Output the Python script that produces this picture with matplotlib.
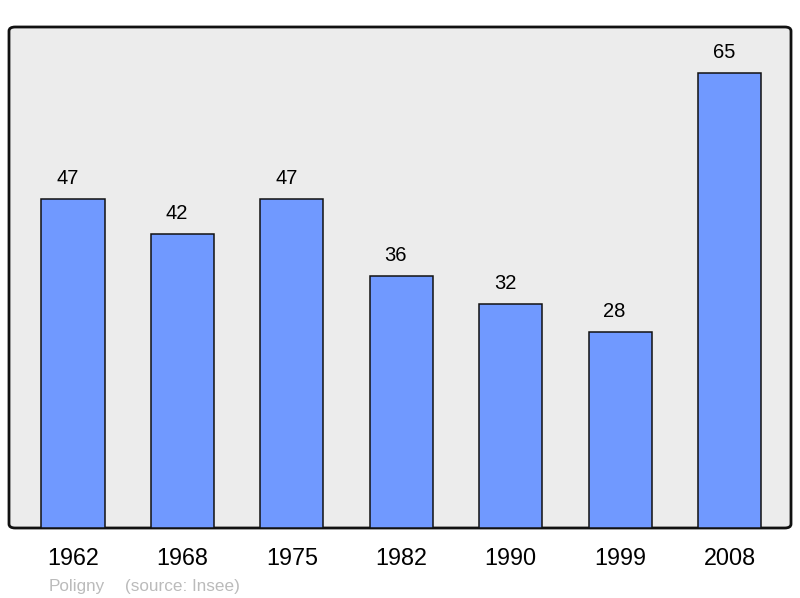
import matplotlib.pyplot as plt
from matplotlib.patches import FancyBboxPatch

plt.rcParams['font.family'] = ['Liberation Sans', 'DejaVu Sans']

years = ["1962", "1968", "1975", "1982", "1990", "1999", "2008"]
population = [47, 42, 47, 36, 32, 28, 65]
town = "Poligny"
source = "(source: Insee)"

fig = plt.figure(figsize=(8, 5.98), dpi=100)
ax = fig.add_axes([9 / 800, 70 / 598, 782 / 800, 501 / 598])
ax.set_facecolor("none")

frame = FancyBboxPatch((0, 0), 1, 1, boxstyle="round,pad=0,rounding_size=0.008",
                       transform=ax.transAxes, facecolor="#ececec",
                       edgecolor="#111111", linewidth=2, clip_on=False, zorder=0)
ax.add_patch(frame)

x = range(len(years))
ax.bar(x, population, width=0.576, color="#7099ff", edgecolor="#111111",
       linewidth=1.1, zorder=2)
for xi, v in zip(x, population):
    ax.annotate(str(v), (xi, v), xytext=(-4, 10.8), textcoords="offset points",
                ha="center", va="baseline", fontsize=14.5)

ax.set_xlim(-0.585, 6.562)
ax.set_ylim(0, 71.6)
ax.set_yticks([])
ax.set_xticks(list(x))
ax.set_xticklabels(years, fontsize=16.8)
ax.tick_params(axis="x", length=0, pad=14)
for s in ax.spines.values():
    s.set_visible(False)

fig.text(49 / 800, 1 - 591 / 598, town, color="#bbbbbb", fontsize=12.3, va="baseline")
fig.text(125 / 800, 1 - 591 / 598, source, color="#bbbbbb", fontsize=12.3, va="baseline")

fig.savefig("out.png", dpi=100)
